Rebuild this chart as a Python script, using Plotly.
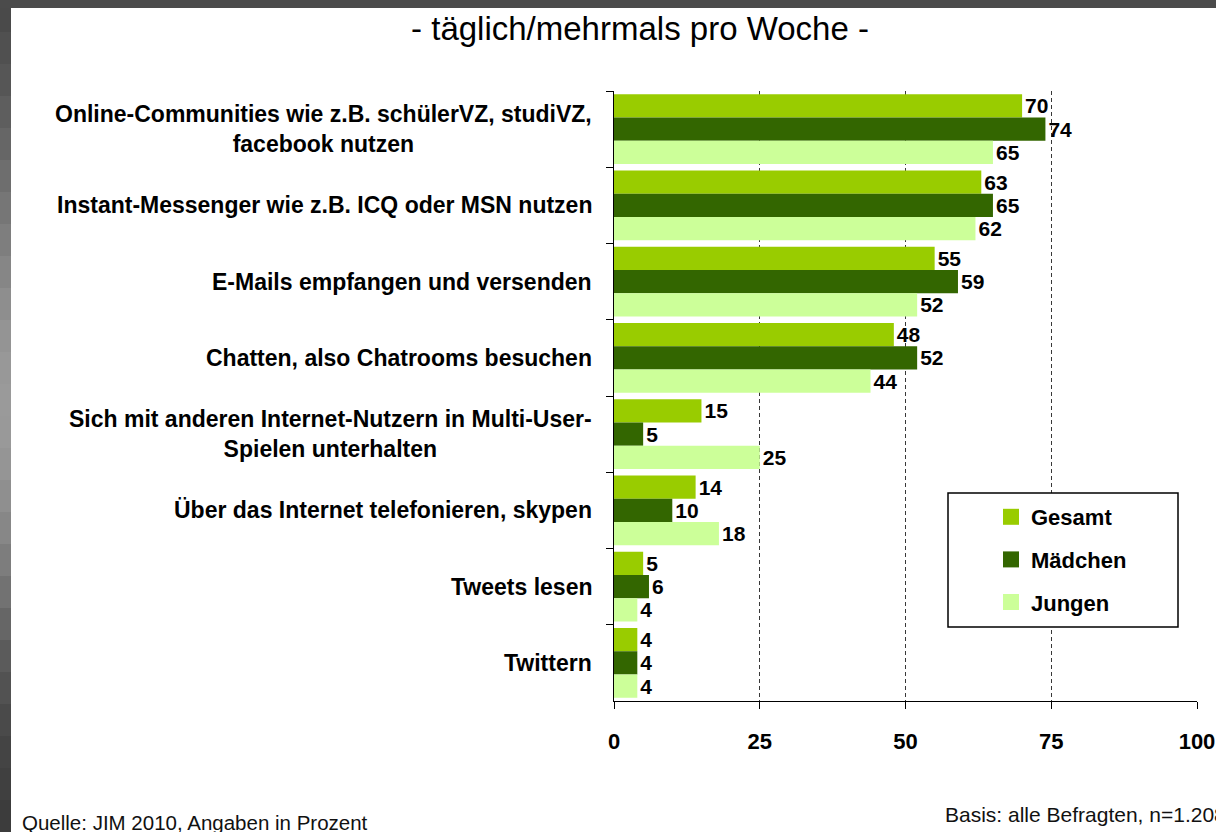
import plotly.graph_objects as go

# ---------------- data ----------------
categories = [
    "Online-Communities",
    "Instant-Messenger",
    "E-Mails",
    "Chatten",
    "Multi-User-Spiele",
    "Telefonieren",
    "Tweets lesen",
    "Twittern",
]
category_labels = [
    "Online-Communities wie z.B. schülerVZ, studiVZ,<br>facebook nutzen",
    "Instant-Messenger wie z.B. ICQ oder MSN nutzen",
    "E-Mails empfangen und versenden",
    "Chatten, also Chatrooms besuchen",
    "Sich mit anderen Internet-Nutzern in Multi-User-<br>Spielen unterhalten",
    "Über das Internet telefonieren, skypen",
    "Tweets lesen",
    "Twittern",
]
series_names = ["Gesamt", "Mädchen", "Jungen"]
gesamt = [70, 63, 55, 48, 15, 14, 5, 4]
maedchen = [74, 65, 59, 52, 5, 10, 6, 4]
jungen = [65, 62, 52, 44, 25, 18, 4, 4]
series_values = [gesamt, maedchen, jungen]
series_colors = ["#99CC00", "#336600", "#CCFF99"]
x_ticks = [0, 25, 50, 75, 100]

title_text = "- täglich/mehrmals pro Woche -"
source_text = "Quelle: JIM 2010, Angaben in Prozent"
basis_text = "Basis: alle Befragten, n=1.208"

# ---------------- layout helpers ----------------
W, H = 1216, 832
L, R, T, B = 614, 19, 91, 131
PW, PH = W - L - R, H - T - B
FONT = "Liberation Sans, Arial, sans-serif"


def px(xpix):
    return (xpix - L) / PW


def py(ypix):
    return (H - B - ypix) / PH


fig = go.Figure()

for name, vals, col in zip(series_names, series_values, series_colors):
    fig.add_trace(go.Bar(
        name=name, y=categories, x=vals, orientation="h",
        marker=dict(color=col, line=dict(width=0)),
        text=[str(v) for v in vals], textposition="outside",
        textfont=dict(family=FONT, size=21, color="black", weight="bold"),
        constraintext="none", cliponaxis=False, showlegend=False,
        hoverinfo="x+y+name",
    ))

# legend entries
for name, col in zip(series_names, series_colors):
    fig.add_trace(go.Scatter(
        name=name, x=[None], y=[None], mode="markers",
        marker=dict(symbol="square", size=16, color=col),
        legendgroup=name, showlegend=True,
    ))

shapes = []
# white page background and gray frame
shapes.append(dict(type="rect", xref="paper", yref="paper", layer="below",
                   x0=px(11), x1=px(W + 20), y0=py(H + 20), y1=py(8),
                   fillcolor="white", line=dict(width=0)))
band_colors = ["#4a4a4a", "#505050", "#565656", "#5e5e5e", "#666666", "#6e6e6e",
               "#767676", "#7e7e7e", "#868686", "#8e8e8e", "#949494", "#989898",
               "#9a9a9a", "#999999", "#959595", "#8f8f8f", "#878787", "#7d7d7d",
               "#727272", "#666666", "#5b5b5b", "#525252", "#4a4a4a", "#444444",
               "#404040", "#3c3c3c"]
step = H / len(band_colors)
for i, c in enumerate(band_colors):
    shapes.append(dict(type="rect", xref="paper", yref="paper", layer="below",
                       x0=px(-2), x1=px(11), y0=py((i + 1) * step + 1), y1=py(i * step if i else 8),
                       fillcolor=c, line=dict(width=0)))
# legend box
shapes.append(dict(type="rect", xref="paper", yref="paper", layer="above",
                   x0=px(948), x1=px(1178), y0=py(627), y1=py(493),
                   fillcolor="white", line=dict(color="black", width=1.5)))

annotations = []
for cat, lab in zip(categories, category_labels):
    annotations.append(dict(
        text=lab, xref="paper", yref="y", x=px(594), y=cat,
        xanchor="right", yanchor="middle", align="center", showarrow=False,
        font=dict(family=FONT, size=23, color="black", weight="bold"),
    ))
annotations.append(dict(text=source_text, xref="paper", yref="paper",
                        x=px(20), y=py(822), xanchor="left", yanchor="middle",
                        showarrow=False, font=dict(family=FONT, size=20.5, color="#111111")))
annotations.append(dict(text=basis_text, xref="paper", yref="paper",
                        x=px(943), y=py(815), xanchor="left", yanchor="middle",
                        showarrow=False, font=dict(family=FONT, size=21, color="#111111")))

fig.update_layout(
    width=W, height=H,
    margin=dict(l=L, r=R, t=T, b=B, pad=0, autoexpand=False),
    paper_bgcolor="#4b4b4b", plot_bgcolor="white",
    barmode="group", bargap=0.085, bargroupgap=0,
    title=dict(text=title_text, x=640 / W, y=1 - 28 / H, xanchor="center", yanchor="middle",
               font=dict(family=FONT, size=33, color="black")),
    xaxis=dict(range=[0, 100], tickvals=x_ticks, showgrid=True, gridcolor="#383838",
               griddash="4px,3px", gridwidth=1, zeroline=False, showline=True,
               linecolor="black", linewidth=1, ticks="outside", ticklen=7,
               tickcolor="black", ticklabelstandoff=14, automargin=False,
               tickfont=dict(family=FONT, size=22, color="black", weight="bold"),
               fixedrange=True),
    yaxis=dict(type="category", categoryorder="array", categoryarray=categories,
               autorange="reversed", showticklabels=False, ticks="outside",
               tickson="boundaries", ticklen=7, tickcolor="black", showline=True,
               linecolor="black", linewidth=1, showgrid=False, zeroline=False,
               automargin=False, fixedrange=True),
    legend=dict(x=px(991), y=py(496), xanchor="left", yanchor="top",
                bgcolor="rgba(0,0,0,0)", borderwidth=0, tracegroupgap=11,
                font=dict(family=FONT, size=22, color="black", weight="bold"),
                itemclick=False, itemdoubleclick=False),
    shapes=shapes, annotations=annotations,
    showlegend=True,
)

fig.write_html(
    "out.html",
    config={"displayModeBar": False},
    post_script="document.body.style.margin='0';document.body.style.overflow='hidden';",
)
